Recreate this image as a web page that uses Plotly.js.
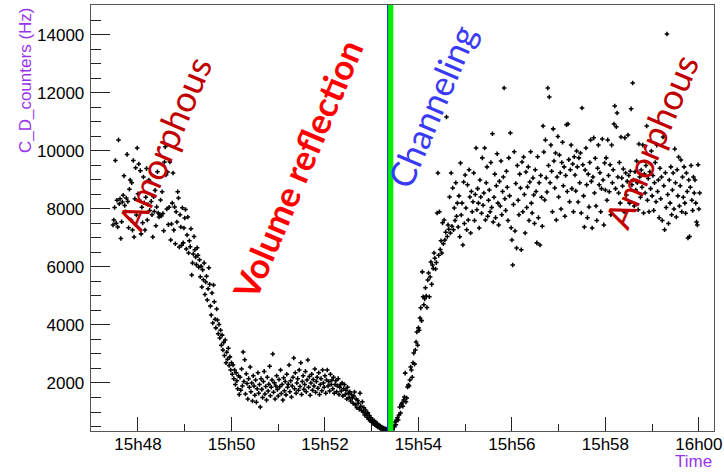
<!DOCTYPE html>
<html>
<head>
<meta charset="utf-8">
<script src="https://cdn.plot.ly/plotly-3.0.1.min.js"></script>
<style>
  html, body { margin: 0; padding: 0; background: #fff; }
  #chart { width: 724px; height: 473px; }
</style>
</head>
<body>
<div id="chart"></div>
<script>
// Counter rate readout, seconds after 15:47:00
const secs = [
  28,29,30,31,32,33,34,35,36,37, 38,39,40,41,42,43,44,45,46,47,
  48,49,50,51,52,53,54,55,56,57, 58,59,60,61,62,63,64,65,66,67,
  68,69,70,71,72,73,74,75,76,77, 78,79,80,81,82,83,84,85,86,87,
  88,89,90,91,92,93,94,95,96,97, 98,99,100,101,102,103,104,105,106,107,
  108,109,110,111,112,113,114,115,116,117, 118,119,120,121,122,123,124,125,126,127,
  128,129,130,131,132,133,134,135,136,137, 138,139,140,141,142,143,144,145,146,147,
  148,149,150,151,152,153,154,155,156,157, 158,159,160,161,162,163,164,165,166,167,
  168,169,170,171,172,173,174,175,176,177, 178,179,180,181,182,183,184,185,186,187,
  188,189,190,191,192,193,194,195,196,197, 198,199,200,201,202,203,204,205,206,207,
  208,209,210,211,212,213,214,215,216,217, 218,219,220,221,222,223,224,225,226,227,
  228,229,230,231,232,233,234,235,236,237, 238,239,240,241,242,243,244,245,246,247,
  248,249,250,251,252,253,254,255,256,257, 258,259,260,261,262,263,264,265,266,267,
  268,269,270,271,272,273,274,275,276,277, 278,279,280,281,282,283,284,285,286,287,
  288,289,290,291,292,293,294,295,296,297, 298,299,300,301,302,303,304,305,306,307,
  308,309,310,311,312,313,314,315,316,317, 318,319,320,321,322,323,324,325,326,327,
  328,329,330,331,332,333,334,335,336,337, 338,339,340,341,342,343,344,345,346,347,
  348,349,350,351,352,353,354,355,356,357, 358,359,360,361,362,363,364,365,366,367,
  368,369,370,371,372,373,374,375,376,377, 378,379,380,381,382,383,384,385,386,387,
  388,389,390,391,392,393,394,395,396,397, 398,399,400,401,402,403,404,405,406,407,
  408,409,410,411,412,413,414,415,416,417, 418,419,420,421,422,423,424,425,426,427,
  428,429,430,431,432,433,434,435,436,437, 438,439,440,441,442,443,444,445,446,447,
  448,449,450,451,452,453,454,455,456,457, 458,459,460,461,462,463,464,465,466,467,
  468,469,470,471,472,473,474,475,476,477, 478,479,480,481,482,483,484,485,486,487,
  488,489,490,491,492,493,494,495,496,497, 498,499,500,501,502,503,504,505,506,507,
  508,509,510,511,512,513,514,515,516,517, 518,519,520,521,522,523,524,525,526,527,
  528,529,530,531,532,533,534,535,536,537, 538,539,540,541,542,543,544,545,546,547,
  548,549,550,551,552,553,554,555,556,557, 558,559,560,561,562,563,564,565,566,567,
  568,569,570,571,572,573,574,575,576,577, 578,579,580,581,582,583,584,585,586,587,
  588,589,590,591,592,593,594,595,596,597, 598,599,600,601,602,603,604,605,606,607,
  608,609,610,611,612,613,614,615,616,617, 618,619,620,621,622,623,624,625,626,627,
  628,629,630,631,632,633,634,635,636,637, 638,639,640,641,642,643,644,645,646,647,
  648,649,650,651,652,653,654,655,656,657, 658,659,660,661,662,663,664,665,666,667,
  668,669,670,671,672,673,674,675,676,677, 678,679,680,681,682,683,684,685,686,687,
  688,689,690,691,692,693,694,695,696,697, 698,699,700,701,702,703,704,705,706,707,
  708,709,710,711,712,713,714,715,716,717, 718,719,720,721,722,723,724,725,726,727,
  728,729,730,731,732,733,734,735,736,737, 738,739,740,741,742,743,744,745,746,747,
  748,749,750,751,752,753,754,755,756,757, 758,759,760,761,762,763,764,765,766,767,
  768,769,770,771,772,773,774,775,776,777, 778,779,780,781
];

// C_D counter rate (Hz)
const rate = [
  7450,7620,8050,9670,7510,8300,7380,10380,8180,8350, 6980,7560,8240,8470,9140,8120,7900,8380,9880,8260,
  7350,8680,9000,7620,8900,7270,9670,7030,8350,9420, 7790,10100,8520,9550,8300,9320,7140,8060,7520,9100,
  8210,7270,8400,9390,7620,8150,9000,7950,8930,8260, 7800,7030,8420,7910,8640,7420,8070,9280,7860,7720,
  7800,8310,7760,8590,7840,7250,9620,10140,9170,8000, 9270,7460,8060,9620,6930,7480,8200,9240,7270,8070,
  6800,7900,7550,8590,8380,6690,7800,7380,6750,8040, 6830,7340,7690,7980,6620,7100,7720,6480,6900,6700,
  7320,5720,6140,6450,7050,6590,6340,6080,6660,6400, 5990,6250,5660,6020,5310,5900,5560,6140,5050,5480,
  5680,4860,5250,5970,5400,4650,4340,5100,4070,5380, 4800,4200,3900,4550,4170,3700,4020,3550,3820,3300,
  3650,3140,3400,2950,3480,2700,3060,2820,3200,2600, 2900,2450,2700,2300,2620,2150,2450,1950,2350,2080,
  1800,2250,1600,2200,1750,2480,1900,3070,2050,2800, 1620,2320,1980,1450,2150,1850,2550,1700,2000,1380,
  2250,1900,1580,2100,1340,1800,2350,1650,1950,1170, 2150,1780,1500,2050,2400,1620,1880,1410,2200,1720,
  1960,2580,1560,1850,2100,3000,1680,2010,1450,1900, 2250,1780,1550,2120,1870,2450,1640,1950,1410,2180,
  1730,2050,1590,2300,1850,1960,2620,1700,2080,1520, 1900,2200,2860,1800,2350,1650,2000,2150,1750,2450,
  1880,2700,1600,2050,2250,1780,1950,2400,1700,2100, 2790,1850,2220,1580,2000,2300,1750,2120,1900,2480,
  1680,2050,2200,1820,2350,1600,1950,2150,1730,2450, 2000,1850,2250,1650,2100,2450,1900,2050,1720,2300,
  1950,2100,1800,2200,1650,1950,2080,1700,1900,2150, 1600,1850,1950,1720,2000,1550,1800,1950,1600,1750,
  1450,1850,1650,1500,1700,1380,1600,1480,1300,1550, 1690,1250,1450,1150,1400,1300,1100,1650,1200,1050,
  1350,1000,1150,900,1070,950,820,970,760,880, 700,800,650,740,600,700,560,655,520,600,
  480,550,450,520,420,480,400,450,380,430, 370,400,360,390,350,420,380,420,460,390,
  520,480,655,560,720,800,725,900,1170,965, 1260,1310,1200,1410,1520,2340,1350,1480,1860,1930,
  1900,2100,2550,2450,2200,2700,3030,2650,3140,3410, 3760,3300,3900,3820,4240,4590,4150,5830,4970,4700,
  4900,5280,5000,4600,5550,5790,4970,5650,6170,5400, 6070,5950,6480,6300,5930,6150,7860,9240,6400,7900,
  6600,6900,6480,7520,6800,7620,6930,7200,11170,7050, 7450,7300,8410,7170,9240,7400,8720,7280,8030,7600,
  8900,7750,8200,7380,8450,7040,9580,7790,8200,6760, 8930,7500,9170,8030,7280,8830,7620,9350,8410,7170,
  8600,7900,8250,9240,7600,8500,10100,7970,8700,8200, 7340,9000,8410,7850,9760,8130,8550,10100,7620,8900,
  9450,7750,8300,8650,7900,9600,8050,10590,7550,8400, 9200,7700,8800,9900,8200,7450,8950,8100,9650,7800,
  8600,9100,12170,8350,7950,9300,8750,7600,9760,8450, 10620,7350,6930,6070,8150,9970,7240,8880,6650,9500,
  8300,7800,9200,8720,6590,9620,7900,9790,8500,7170, 9270,8050,8760,9450,7600,8930,9970,8200,7860,9070,
  8480,7500,9350,8600,6830,9800,7700,8900,6760,9150, 8400,7400,10860,9960,8310,10380,9070,8580,12170,9500,
  11860,8900,10200,9300,7900,10760,9650,8720,9930,7620, 9100,10500,8410,9860,9250,8000,9600,10300,8800,9450,
  7750,9150,10900,8600,10930,9700,8250,9350,10200,8700, 9550,7900,9800,9170,8620,10000,9450,8240,9760,8900,
  9930,7860,11480,9520,8450,7380,9340,10100,8830,7700, 9200,8070,9600,10380,8950,7340,9100,10450,8550,9750,
  8100,7600,9400,10200,8830,9250,7900,8700,10410,9000, 7450,9580,8650,9760,8300,10380,9150,8590,9520,7800,
  10200,8900,9350,10930,11550,8700,10830,11310,9100,8550, 9600,8200,10480,9070,8790,9380,7900,10450,9240,8480,
  8950,10550,9150,8200,9300,11450,8830,12340,9000,8100, 9280,8650,9650,8900,7970,10240,9100,8400,9340,8750,
  10200,7860,9200,8550,9500,10860,8300,9050,7900,9280, 8700,10000,8450,9150,7950,8900,9600,8250,10200,8600,
  9000,7700,9400,8350,9100,7600,10480,8800,7280,9250, 8050,14030,8500,7500,9000,8200,9450,7800,8650,9240,
  8000,10070,8900,7720,9350,8450,9790,8100,8800,9690, 7900,9100,8400,9450,8200,7850,9240,8600,7000,9000,
  7050,8750,9500,8300,7950,9100,8550,9000,8200,7550, 7450,9520,8000,8550
];

// Beam-orientation regions written across the plot
const regionLabels = ['Amorphous', 'Volume reflection', 'Channeling', 'Amorphous'];

// Run start reference and markers (seconds after 15:47:00)
const runDay = Date.UTC(2012, 10, 15, 15, 47, 0);
const channelingPeak = 383.9;
const alignmentMark = 380.4;
const timeWindow = [-0.3, 799.4];
const rateWindow = [345, 15030];

const toMs = s => runDay + s * 1000;

const trace = {
  type: 'scatter',
  mode: 'markers',
  x: secs.map(toMs),
  y: rate,
  marker: { symbol: 'cross', size: 3.8, color: '#000000', line: { width: 0 } },
  hoverinfo: 'skip'
};

const axisFont = { family: 'Liberation Sans, Arial, sans-serif', size: 17, color: '#000' };
const labelFont = (size, color) => ({ family: 'Lato, Carlito, sans-serif', size: size, color: color });

const layout = {
  width: 724,
  height: 473,
  margin: { l: 91, r: 10, t: 5, b: 42 },
  paper_bgcolor: '#ffffff',
  plot_bgcolor: '#ffffff',
  showlegend: false,
  xaxis: {
    type: 'date',
    range: timeWindow.map(toMs),
    tick0: toMs(60),
    dtick: 120000,
    tickformat: '%Hh%M',
    ticks: 'inside',
    ticklen: 14,
    tickwidth: 1,
    tickcolor: '#222',
    minor: { dtick: 60000, ticks: 'inside', ticklen: 7, tickwidth: 1, tickcolor: '#222', showgrid: false },
    showgrid: false,
    zeroline: false,
    showline: true,
    mirror: true,
    linecolor: '#555',
    linewidth: 1.3,
    tickfont: axisFont,
    ticklabelstandoff: -3
  },
  yaxis: {
    range: rateWindow,
    tick0: 0,
    dtick: 2000,
    tickformat: 'd',
    ticks: 'inside',
    ticklen: 19,
    tickwidth: 1,
    tickcolor: '#222',
    minor: { dtick: 500, ticks: 'inside', ticklen: 10, tickwidth: 1, tickcolor: '#222', showgrid: false },
    showgrid: false,
    zeroline: false,
    showline: true,
    mirror: true,
    linecolor: '#555',
    linewidth: 1.3,
    tickfont: axisFont,
    ticklabelstandoff: 2
  },
  shapes: [
    {
      type: 'line', xref: 'x', yref: 'paper',
      x0: toMs(channelingPeak), x1: toMs(channelingPeak), y0: 0, y1: 1,
      line: { color: '#00f000', width: 6 }
    },
    {
      type: 'line', xref: 'x', yref: 'paper',
      x0: toMs(alignmentMark), x1: toMs(alignmentMark), y0: 0, y1: 1,
      line: { color: '#2020ff', width: 1 }
    }
  ],
  annotations: [
    {
      text: 'C_D_counters (Hz)', xref: 'paper', yref: 'paper', x: 0, y: 1,
      xanchor: 'center', yanchor: 'top', xshift: -66, textangle: -90,
      showarrow: false, font: { family: 'Liberation Sans, Arial, sans-serif', size: 17, color: '#9933ee' }
    },
    {
      text: 'Time', xref: 'paper', yref: 'paper', x: 1, y: 0,
      xanchor: 'right', yanchor: 'bottom', xshift: -1, yshift: -41, borderpad: 0,
      showarrow: false, font: { family: 'Liberation Sans, Arial, sans-serif', size: 17, color: '#9933ee' }
    },
    {
      text: regionLabels[0], xref: 'paper', yref: 'paper', x: 0.118, y: 0.675,
      xanchor: 'center', yanchor: 'middle', textangle: -67, showarrow: false,
      font: labelFont(36, '#c00000')
    },
    {
      text: '<b>' + regionLabels[1] + '</b>', xref: 'paper', yref: 'paper', x: 0.331, y: 0.615,
      xanchor: 'center', yanchor: 'middle', textangle: -67, showarrow: false,
      font: labelFont(35, '#ff0000')
    },
    {
      text: regionLabels[2], xref: 'paper', yref: 'paper', x: 0.546, y: 0.763,
      xanchor: 'center', yanchor: 'middle', textangle: -67, showarrow: false,
      font: labelFont(35, '#3a3af5')
    },
    {
      text: regionLabels[3], xref: 'paper', yref: 'paper', x: 0.899, y: 0.681,
      xanchor: 'center', yanchor: 'middle', textangle: -67, showarrow: false,
      font: labelFont(36, '#c00000')
    }
  ]
};

Plotly.newPlot('chart', [trace], layout, { displayModeBar: false, staticPlot: true });
</script>
</body>
</html>
